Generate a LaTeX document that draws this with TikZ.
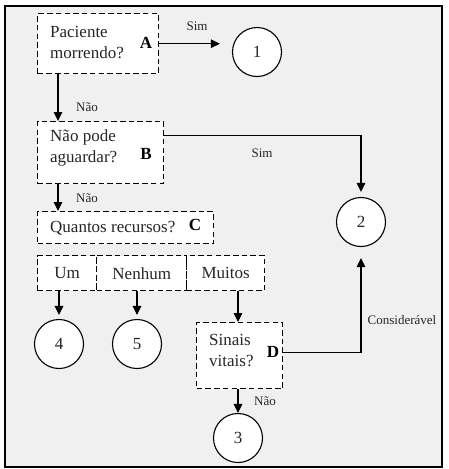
\documentclass[tikz,border=0pt]{standalone}
\usepackage{fontspec}
\setmainfont{Liberation Serif}
\usetikzlibrary{arrows.meta,calc}
\definecolor{bg}{HTML}{F0F0F0}
\definecolor{ink}{HTML}{262626}
\begin{document}
\begin{tikzpicture}[x=1pt,y=-1pt,
 box/.style={draw,dash pattern=on 5.5pt off 3.2pt,line width=1.4pt,fill=white,inner sep=0,anchor=north west,font=\fontsize{17}{21}\selectfont,text=ink},
 circ/.style={draw,circle,line width=1.1pt,minimum size=49pt,inner sep=0,fill=white,font=\fontsize{17}{20}\selectfont,text=ink},
 txt/.style={anchor=west,inner sep=0,align=left,font=\fontsize{17}{21}\selectfont,text=ink},
 letr/.style={inner sep=0,font=\fontsize{17}{20}\selectfont\bfseries},
 lab/.style={inner sep=0,font=\fontsize{13}{15}\selectfont,text=ink},
 arr/.style={-{Triangle[length=9pt,width=8.5pt]},line width=1.1pt}
]
\useasboundingbox (0,0) rectangle (448,469);
\draw[line width=1.8pt,fill=bg] (5,6) rectangle (442,467);

% A
\node[box,minimum width=121pt,minimum height=60pt] (A) at (37,13) {};
\node[txt] (tA) at (50,42) {Paciente\\morrendo?};
\node[letr] (lA) at (146,43) {A};
\node[circ] (c1) at (257,52) {1};
\draw[arr,shorten >=12pt] (A.east) -- (A.east -| c1.west);
\node[lab] (sim1) at (197,26) {Sim};

% B
\node[box,minimum width=126pt,minimum height=62pt] (B) at (37,121) {};
\node[txt] (tB) at (50,148) {Não pode\\aguardar?};
\node[letr] (lB) at (146,154) {B};
\coordinate (xl) at (58,0);
\draw[arr] (A.south -| xl) -- (B.north -| xl);
\node[lab] (nao1) at (87,107) {Não};

% 2
\node[circ] (c2) at (361,222) {2};
\coordinate (bo) at ($(B.east)+(0,-17)$);
\draw[arr,shorten >=5pt] (bo) -| (c2.north);
\node[lab] (sim2) at (262,153) {Sim};

% C
\node[box,minimum width=176pt,minimum height=32pt] (C) at (37,211) {};
\node[txt] (tC) at (50,228) {Quantos recursos?};
\node[letr] (lC) at (195,225) {C};
\draw[arr] (B.south -| xl) -- (C.north -| xl);
\node[lab] (nao2) at (87,198) {Não};

% row
\node[box,minimum width=59pt,minimum height=35pt] (um) at (37,255) {Um};
\node[box,minimum width=90pt,minimum height=35pt] (nen) at (96,255) {Nenhum};
\node[box,minimum width=78pt,minimum height=35pt] (mui) at (186,255) {Muitos};

\node[circ] (c4) at (59,344) {4};
\node[circ] (c5) at (137,344) {5};
\draw[arr,shorten >=4pt] (um.south -| c4) -- (c4.north);
\draw[arr,shorten >=4pt] (nen.south -| c5) -- (c5.north);

% D
\node[box,minimum width=86pt,minimum height=66pt] (D) at (196,322) {};
\node[txt] (tD) at (209,350) {Sinais\\vitais?};
\node[letr] (lD) at (273,352) {D};
\node[circ] (c3) at (238,438) {3};
\draw[arr] (mui.south -| c3) -- (D.north -| c3);
\draw[arr] (D.south -| c3) -- (c3.north);
\node[lab] (nao3) at (265,401) {Não};

\coordinate (dout) at ($(D.east)+(0,-3)$);
\draw[arr,shorten >=11pt] (dout) -| (c2.south);
\node[lab] (cons) at (402,320) {Considerável};
\end{tikzpicture}
\end{document}
